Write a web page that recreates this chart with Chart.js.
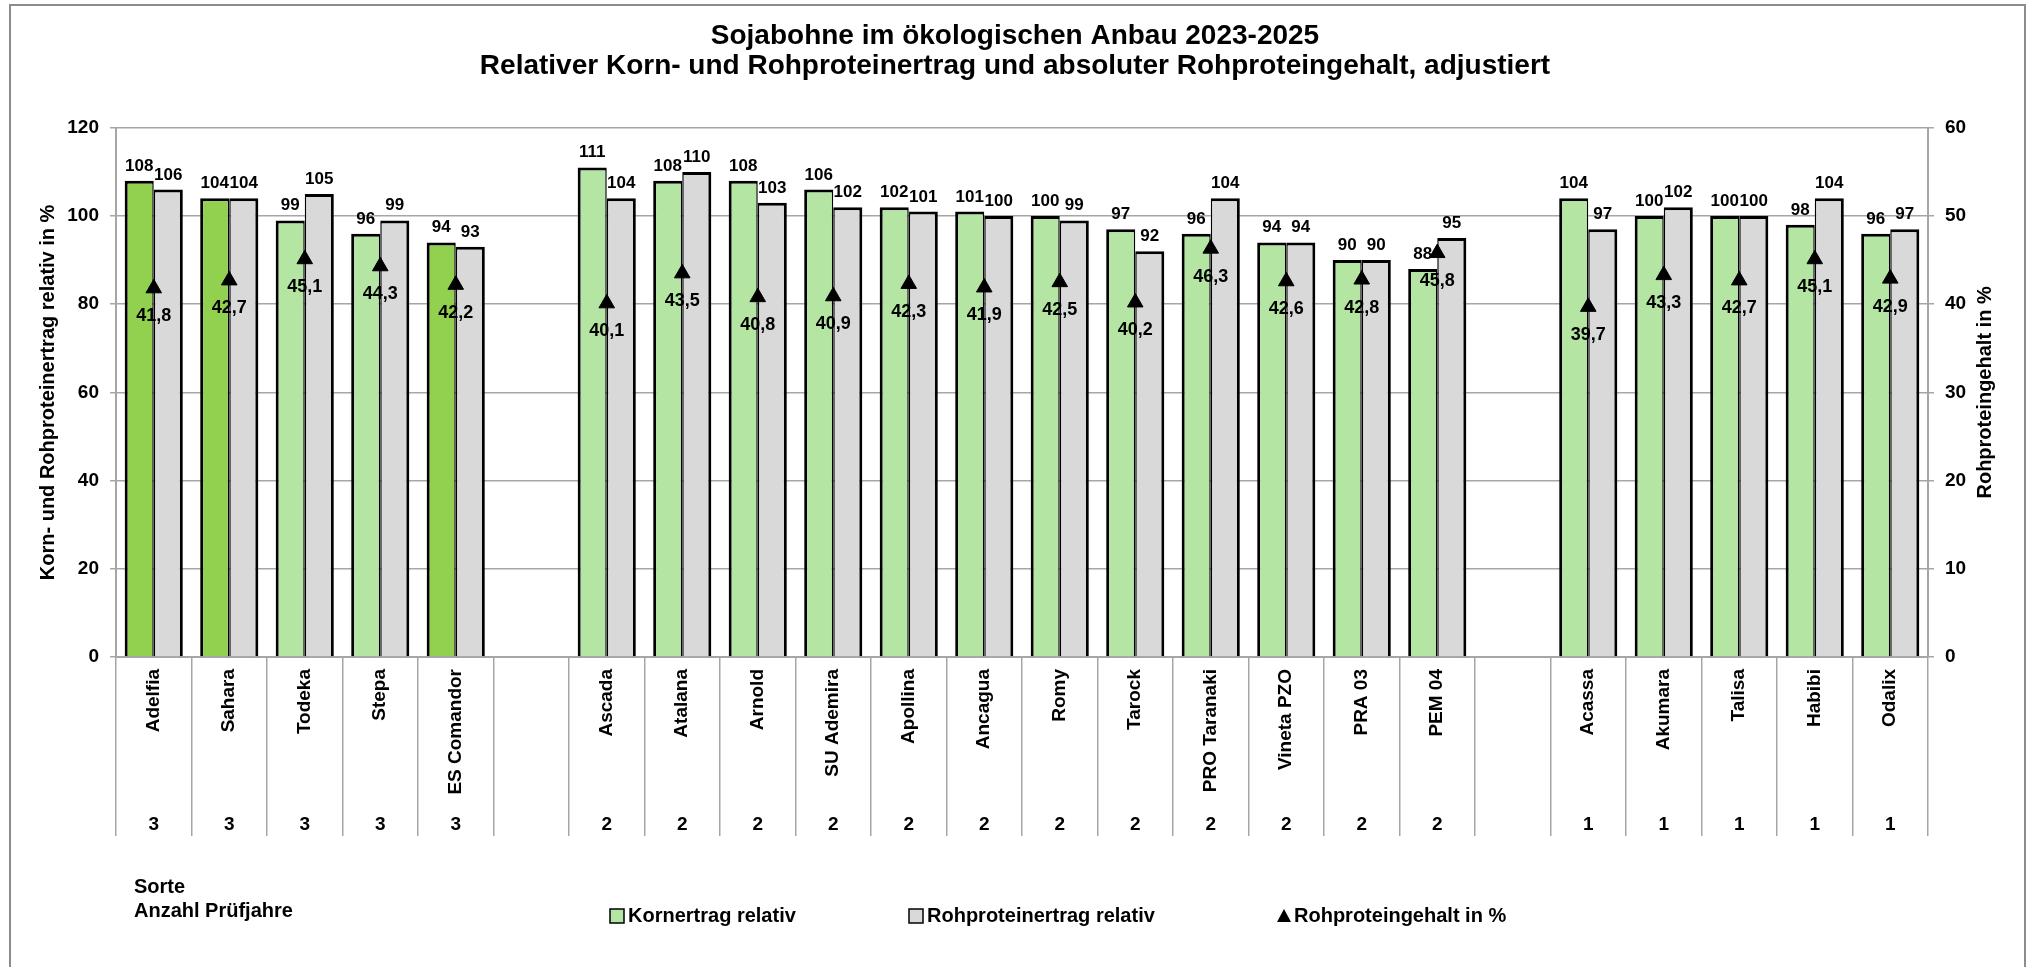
<!DOCTYPE html>
<html lang="de">
<head>
<meta charset="utf-8">
<title>Sojabohne im ökologischen Anbau 2023-2025</title>
<script src="https://cdn.jsdelivr.net/npm/chart.js@4.4.1/dist/chart.umd.min.js"></script>
<style>
  html, body { margin: 0; padding: 0; background: #fff; }
  #wrap { width: 2030px; height: 967px; position: relative; }
</style>
</head>
<body>
<div id="wrap"><canvas id="grafico"></canvas></div>
<script>
// =====================================================
// SOJABOHNE — Korn-/Rohproteinertrag relativ, Rohproteingehalt
// =====================================================

const sorten = [
  "Adelfia", "Sahara", "Todeka", "Stepa", "ES Comandor", "",
  "Ascada", "Atalana", "Arnold", "SU Ademira", "Apollina", "Ancagua",
  "Romy", "Tarock", "PRO Taranaki", "Vineta PZO", "PRA 03", "PEM 04", "",
  "Acassa", "Akumara", "Talisa", "Habibi", "Odalix"
];
const pruefjahre = [
  "3", "3", "3", "3", "3", "",
  "2", "2", "2", "2", "2", "2", "2", "2", "2", "2", "2", "2", "",
  "1", "1", "1", "1", "1"
];
const kornertrag = [
  108, 104, 99, 96, 94, null,
  111, 108, 108, 106, 102, 101, 100, 97, 96, 94, 90, 88, null,
  104, 100, 100, 98, 96
];
const rohproteinertrag = [
  106, 104, 105, 99, 93, null,
  104, 110, 103, 102, 101, 100, 99, 92, 104, 94, 90, 95, null,
  97, 102, 100, 104, 97
];
const rohproteingehalt = [
  41.8, 42.7, 45.1, 44.3, 42.2, null,
  40.1, 43.5, 40.8, 40.9, 42.3, 41.9, 42.5, 40.2, 46.3, 42.6, 42.8, 45.8, null,
  39.7, 43.3, 42.7, 45.1, 42.9
];
const verrechnungssorten = ["Adelfia", "Sahara", "ES Comandor"];

const FONT = "'Liberation Sans', Arial, sans-serif";
const GRAU_LINIE = "#a6a6a6";
const GRUEN_DUNKEL = "#92d050";
const GRUEN_HELL = "#b4e5a2";
const GRAU_BALKEN = "#d9d9d9";

// ---- Beschriftungen, Legende, Rahmen ----
const beschriftungen = {
  id: "beschriftungen",
  afterDatasetsDraw(chart) {
    const ctx = chart.ctx;
    const area = chart.chartArea;
    ctx.save();
    ctx.fillStyle = "#000";
    ctx.textAlign = "center";
    ctx.textBaseline = "alphabetic";

    // Werte ueber den Balken
    ctx.font = `bold 17px ${FONT}`;
    [0, 1].forEach(i => {
      const werte = chart.data.datasets[i].data;
      chart.getDatasetMeta(i).data.forEach((bar, j) => {
        if (werte[j] == null) return;
        ctx.fillText(werte[j], bar.x, bar.y - 10);
      });
    });

    // Rohproteingehalt unter den Dreiecken
    ctx.font = `bold 18px ${FONT}`;
    const gehalt = chart.data.datasets[2].data;
    chart.getDatasetMeta(2).data.forEach((pt, j) => {
      if (gehalt[j] == null) return;
      ctx.fillText(gehalt[j].toFixed(1).replace(".", ","), pt.x, pt.y + 33);
    });

    // Anzahl Pruefjahre
    ctx.font = `bold 19px ${FONT}`;
    const x = chart.scales.x;
    pruefjahre.forEach((n, j) => {
      if (!n) return;
      ctx.fillText(n, x.getPixelForValue(j), 830);
    });

    // rechter Achsentitel (von unten nach oben)
    ctx.save();
    ctx.font = `bold 20px ${FONT}`;
    ctx.textBaseline = "middle";
    ctx.translate(1985, (area.top + area.bottom) / 2);
    ctx.rotate(-Math.PI / 2);
    ctx.fillText("Rohproteingehalt in %", 0, 0);
    ctx.restore();

    // Sorte / Anzahl Pruefjahre
    ctx.textAlign = "left";
    ctx.font = `bold 20px ${FONT}`;
    ctx.fillText("Sorte", 134, 893);
    ctx.fillText("Anzahl Prüfjahre", 134, 917);

    // Legende
    const ds = chart.data.datasets;
    ctx.textBaseline = "middle";
    ctx.lineWidth = 1.5;
    ctx.strokeStyle = "#000";
    [[0, GRUEN_HELL, 610], [1, GRAU_BALKEN, 909]].forEach(([i, farbe, lx]) => {
      ctx.fillStyle = farbe;
      ctx.fillRect(lx, 909, 14, 14);
      ctx.strokeRect(lx, 909, 14, 14);
      ctx.fillStyle = "#000";
      ctx.fillText(ds[i].label, lx + 18, 916);
    });
    ctx.beginPath();
    ctx.moveTo(1284, 909);
    ctx.lineTo(1291, 922);
    ctx.lineTo(1277, 922);
    ctx.closePath();
    ctx.fill();
    ctx.fillText(ds[2].label, 1294, 916);

    // Diagrammrahmen
    ctx.strokeStyle = "#8c8c8c";
    ctx.lineWidth = 2;
    ctx.beginPath();
    ctx.moveTo(10, 967);
    ctx.lineTo(10, 5);
    ctx.lineTo(2025, 5);
    ctx.lineTo(2025, 967);
    ctx.stroke();
    ctx.restore();
  }
};

new Chart(document.getElementById("grafico"), {
  type: "bar",
  data: {
    labels: sorten,
    datasets: [
      {
        label: "Kornertrag relativ",
        data: kornertrag,
        backgroundColor: sorten.map(s => verrechnungssorten.includes(s) ? GRUEN_DUNKEL : GRUEN_HELL),
        borderColor: "#000",
        borderWidth: { top: 3, left: 3, right: 1.5, bottom: 0 },
        categoryPercentage: 0.77,
        barPercentage: 1,
        order: 1
      },
      {
        label: "Rohproteinertrag relativ",
        data: rohproteinertrag,
        backgroundColor: GRAU_BALKEN,
        borderColor: "#000",
        borderWidth: { top: 3, left: 1.5, right: 3, bottom: 0 },
        categoryPercentage: 0.77,
        barPercentage: 1,
        order: 1
      },
      {
        type: "line",
        label: "Rohproteingehalt in %",
        data: rohproteingehalt,
        yAxisID: "y1",
        showLine: false,
        pointStyle: "triangle",
        pointRadius: 9,
        pointHoverRadius: 9,
        pointBackgroundColor: "#000",
        pointBorderColor: "#000",
        pointBorderWidth: 1,
        order: 0
      }
    ]
  },
  options: {
    responsive: true,
    maintainAspectRatio: false,
    animation: false,
    layout: { padding: { top: 6, left: 10, right: 10, bottom: 0 } },
    plugins: {
      legend: { display: false },
      tooltip: { enabled: false },
      title: {
        display: true,
        text: [
          "Sojabohne im ökologischen Anbau 2023-2025",
          "Relativer Korn- und Rohproteinertrag und absoluter Rohproteingehalt, adjustiert"
        ],
        color: "#000",
        font: { family: FONT, size: 28, weight: "bold", lineHeight: 1.05 },
        padding: { top: 16, bottom: 47 }
      }
    },
    scales: {
      x: {
        grid: {
          offset: true,
          drawOnChartArea: false,
          drawTicks: true,
          tickLength: 179,
          color: GRAU_LINIE,
          lineWidth: 1.5
        },
        border: { color: GRAU_LINIE, width: 2 },
        ticks: {
          autoSkip: false,
          minRotation: 90,
          maxRotation: 90,
          padding: -167,
          color: "#000",
          font: { family: FONT, size: 19, weight: "bold" }
        },
        afterFit: s => { s.height = 310; }
      },
      y: {
        position: "left",
        min: 0,
        max: 120,
        ticks: {
          stepSize: 20,
          padding: 11,
          color: "#000",
          font: { family: FONT, size: 19, weight: "bold" }
        },
        grid: { color: GRAU_LINIE, lineWidth: 1.5, tickLength: 6 },
        border: { color: GRAU_LINIE, width: 2 },
        title: {
          display: true,
          text: "Korn- und Rohproteinertrag relativ in %",
          color: "#000",
          font: { family: FONT, size: 20, weight: "bold", lineHeight: 1.2 },
          padding: { top: 26, bottom: 0 }
        },
        afterFit: s => { s.width = 106; }
      },
      y1: {
        position: "right",
        min: 0,
        max: 60,
        ticks: {
          stepSize: 10,
          padding: 11,
          color: "#000",
          font: { family: FONT, size: 19, weight: "bold" }
        },
        grid: { drawOnChartArea: false, color: GRAU_LINIE, lineWidth: 1.5, tickLength: 6 },
        border: { color: GRAU_LINIE, width: 2 },
        afterFit: s => { s.width = 92; }
      }
    }
  },
  plugins: [beschriftungen]
});
</script>
</body>
</html>
